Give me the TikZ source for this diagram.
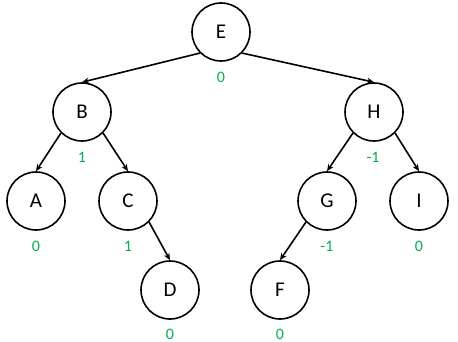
\documentclass[tikz,border=0pt]{standalone}
\usepackage{fontspec}
\setmainfont{Carlito}
\usetikzlibrary{arrows.meta}
\definecolor{bfgreen}{RGB}{0,176,80}
\begin{document}
\begin{tikzpicture}[x=1pt,y=-1pt,
  tnode/.style={circle,draw,line width=1.6pt,minimum size=58pt,inner sep=0pt,font=\fontsize{21}{25}\selectfont},
  bal/.style={text=bfgreen,font=\fontsize{16}{19}\selectfont,inner sep=0pt},
  edge/.style={line width=1.6pt,-{Stealth[length=7pt,width=6pt]}}]
\useasboundingbox (0,0) rectangle (458,342);
\node[tnode] (E) at (221,32) {E};
\node[tnode] (B) at (82,112) {B};
\node[tnode] (H) at (374,112) {H};
\node[tnode] (A) at (36,201) {A};
\node[tnode] (C) at (128,201) {C};
\node[tnode] (G) at (327,201) {G};
\node[tnode] (I) at (419,201) {I};
\node[tnode] (D) at (170,290) {D};
\node[tnode] (F) at (280,290) {F};
\node[bal] (bE) at (221,77) {0};
\node[bal] (bB) at (82,157) {1};
\node[bal] (bH) at (373,157) {-1};
\node[bal] (bA) at (36,246) {0};
\node[bal] (bC) at (128,246) {1};
\node[bal] (bG) at (327,246) {-1};
\node[bal] (bI) at (419,246) {0};
\node[bal] (bD) at (170,334) {0};
\node[bal] (bF) at (280,334) {0};
\draw[edge] (E.south west) -- (B.north);
\draw[edge] (E.south east) -- (H.north);
\draw[edge] (B.south west) -- (A.north);
\draw[edge] (B.south east) -- (C.north);
\draw[edge] (H.south west) -- (G.north);
\draw[edge] (H.south east) -- (I.north);
\draw[edge] (C.south east) -- (D.north);
\draw[edge] (G.south west) -- (F.north);
\end{tikzpicture}
\end{document}
